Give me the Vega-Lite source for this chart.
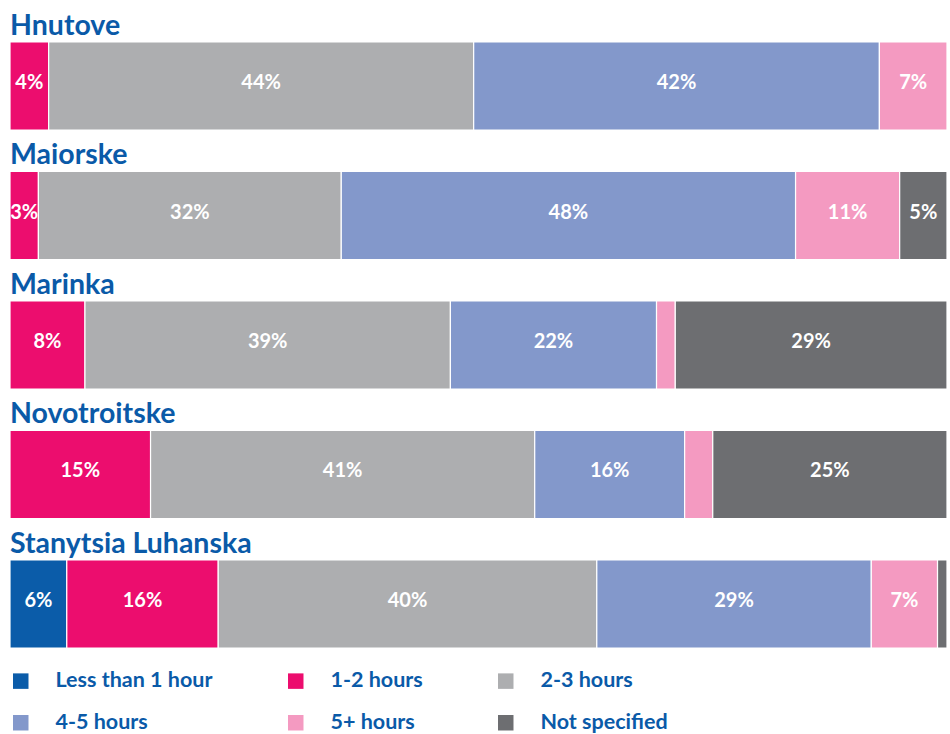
{
  "$schema": "https://vega.github.io/schema/vega-lite/v6.json",
  "width": 937,
  "height": 606,
  "autosize": {"type": "none"},
  "padding": {"left": 10, "top": 42, "right": 3, "bottom": 86},
  "config": {"view": {"stroke": null}, "font": "Lato"},
  "data": {
    "values": [
      {"site": "Hnutove", "cat": "1-2 hours", "pct": 4, "label": "4%"},
      {"site": "Hnutove", "cat": "2-3 hours", "pct": 44, "label": "44%"},
      {"site": "Hnutove", "cat": "4-5 hours", "pct": 42, "label": "42%"},
      {"site": "Hnutove", "cat": "5+ hours", "pct": 7, "label": "7%"},
      {"site": "Maiorske", "cat": "1-2 hours", "pct": 3, "label": "3%"},
      {"site": "Maiorske", "cat": "2-3 hours", "pct": 32, "label": "32%"},
      {"site": "Maiorske", "cat": "4-5 hours", "pct": 48, "label": "48%"},
      {"site": "Maiorske", "cat": "5+ hours", "pct": 11, "label": "11%"},
      {"site": "Maiorske", "cat": "Not specified", "pct": 5, "label": "5%"},
      {"site": "Marinka", "cat": "1-2 hours", "pct": 8, "label": "8%"},
      {"site": "Marinka", "cat": "2-3 hours", "pct": 39, "label": "39%"},
      {"site": "Marinka", "cat": "4-5 hours", "pct": 22, "label": "22%"},
      {"site": "Marinka", "cat": "5+ hours", "pct": 2, "label": ""},
      {"site": "Marinka", "cat": "Not specified", "pct": 29, "label": "29%"},
      {"site": "Novotroitske", "cat": "1-2 hours", "pct": 15, "label": "15%"},
      {"site": "Novotroitske", "cat": "2-3 hours", "pct": 41, "label": "41%"},
      {"site": "Novotroitske", "cat": "4-5 hours", "pct": 16, "label": "16%"},
      {"site": "Novotroitske", "cat": "5+ hours", "pct": 3, "label": ""},
      {"site": "Novotroitske", "cat": "Not specified", "pct": 25, "label": "25%"},
      {"site": "Stanytsia Luhanska", "cat": "Less than 1 hour", "pct": 6, "label": "6%"},
      {"site": "Stanytsia Luhanska", "cat": "1-2 hours", "pct": 16, "label": "16%"},
      {"site": "Stanytsia Luhanska", "cat": "2-3 hours", "pct": 40, "label": "40%"},
      {"site": "Stanytsia Luhanska", "cat": "4-5 hours", "pct": 29, "label": "29%"},
      {"site": "Stanytsia Luhanska", "cat": "5+ hours", "pct": 7, "label": "7%"},
      {"site": "Stanytsia Luhanska", "cat": "Not specified", "pct": 1, "label": ""}
    ]
  },
  "transform": [
    {"calculate": "indexof(['Less than 1 hour','1-2 hours','2-3 hours','4-5 hours','5+ hours','Not specified'], datum.cat)", "as": "k"},
    {"stack": "pct", "groupby": ["site"], "sort": [{"field": "k", "order": "ascending"}], "offset": "normalize", "as": ["v0", "v1"]},
    {"calculate": "(datum.v0 + datum.v1) / 2", "as": "mid"}
  ],
  "layer": [
    {
      "mark": {"type": "bar", "stroke": "white", "strokeWidth": 1.2},
      "encoding": {
        "x": {"field": "v0", "type": "quantitative", "scale": {"domain": [0, 1], "nice": false, "zero": false}, "axis": null},
        "x2": {"field": "v1"},
        "y": {"field": "site", "type": "nominal", "sort": ["Hnutove", "Maiorske", "Marinka", "Novotroitske", "Stanytsia Luhanska"], "scale": {"paddingInner": 0.32, "paddingOuter": 0}, "axis": null},
        "color": {
          "field": "cat",
          "type": "nominal",
          "scale": {
            "domain": ["Less than 1 hour", "1-2 hours", "2-3 hours", "4-5 hours", "5+ hours", "Not specified"],
            "range": ["#0b5ca9", "#ec0d6e", "#adaeb0", "#8398cb", "#f49ac1", "#6d6e71"]
          },
          "legend": {
            "title": null,
            "orient": "none",
            "legendX": 0,
            "legendY": 628,
            "direction": "horizontal",
            "columns": 3,
            "symbolType": "square",
            "symbolSize": 240,
            "symbolStrokeWidth": 0,
            "symbolOpacity": 1,
            "labelFont": "Lato",
            "labelFontSize": 21.5,
            "labelFontWeight": "bold",
            "labelColor": "#0a5aa8",
            "labelOffset": 24,
            "labelLimit": 400,
            "columnPadding": 72,
            "rowPadding": 19
          }
        }
      }
    },
    {
      "transform": [{"filter": "datum.label != ''"}],
      "mark": {"type": "text", "color": "white", "fontWeight": "bold", "fontSize": 20, "font": "Lato", "baseline": "middle", "align": "center", "dy": -3},
      "encoding": {
        "x": {"field": "mid", "type": "quantitative"},
        "y": {"field": "site", "type": "nominal", "sort": ["Hnutove", "Maiorske", "Marinka", "Novotroitske", "Stanytsia Luhanska"]},
        "text": {"field": "label"}
      }
    },
    {
      "transform": [{"filter": "datum.v0 == 0"}],
      "mark": {"type": "text", "color": "#0a5aa8", "fontWeight": "bold", "fontSize": 28.5, "font": "Lato", "baseline": "alphabetic", "align": "left", "dy": -7},
      "encoding": {
        "x": {"field": "v0", "type": "quantitative"},
        "y": {"field": "site", "type": "nominal", "sort": ["Hnutove", "Maiorske", "Marinka", "Novotroitske", "Stanytsia Luhanska"], "bandPosition": 0},
        "text": {"field": "site"}
      }
    }
  ]
}
